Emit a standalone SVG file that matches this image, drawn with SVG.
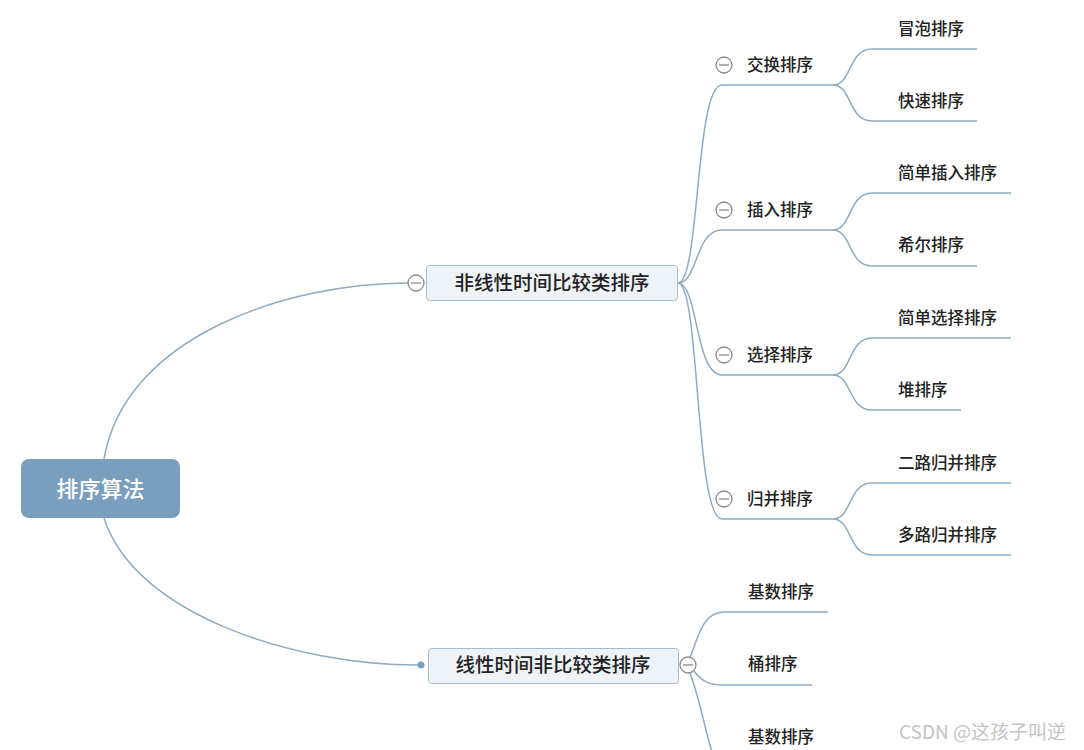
<svg xmlns="http://www.w3.org/2000/svg" width="1084" height="750" viewBox="0 0 1084 750">
<style>
.ln{fill:none;stroke:#8eabc3;stroke-width:1.5}
.t{font-family:"Noto Sans CJK SC","Noto Sans",sans-serif;fill:#222;font-weight:500}
.l2{font-size:16.5px}
.l1{font-size:19.5px}
.col{fill:#fff;stroke:#8a8a8a;stroke-width:1.3}
.wm{font-family:"Noto Sans CJK SC","Liberation Sans",sans-serif;font-size:19px;fill:#c4c4c4}
</style>
<rect width="1084" height="750" fill="#fff"/>
<g id="connectors">
<path class="ln" d="M104,459 C125,335 290,283 408,283"/>
<path class="ln" d="M104,518 C135,615 295,665 418,665"/>
<path class="ln" d="M678,283 C700,283 695,85 722,85 L833,85"/>
<path class="ln" d="M678,283 C698,283 695,230 722,230 L833,230"/>
<path class="ln" d="M678,283 C698,283 695,375 722,375 L833,375"/>
<path class="ln" d="M678,283 C700,283 695,519 722,519 L833,519"/>
<path class="ln" d="M833,85 C852,85 848,49 872,49 L977,49"/>
<path class="ln" d="M833,85 C852,85 848,121 872,121 L977,121"/>
<path class="ln" d="M833,230 C852,230 848,193 872,193 L1011,193"/>
<path class="ln" d="M833,230 C852,230 848,266 872,266 L977,266"/>
<path class="ln" d="M833,375 C852,375 848,338 872,338 L1011,338"/>
<path class="ln" d="M833,375 C852,375 848,410 872,410 L961,410"/>
<path class="ln" d="M833,519 C852,519 848,483 872,483 L1011,483"/>
<path class="ln" d="M833,519 C852,519 848,555 872,555 L1011,555"/>
<path class="ln" d="M690,658 C700,630 705,612 724,612 L828,612"/>
<path class="ln" d="M694,671 C702,682 710,685 724,685 L812,685"/>
<path class="ln" d="M690,673 C700,700 705,730 712,752"/>
</g>
<g id="root">
<rect x="21" y="459" width="159" height="59" rx="8" fill="#7a9fbe"/>
<text class="t" x="100.5" y="497" font-size="22" style="fill:#fff" text-anchor="middle">排序算法</text>
</g>
<g id="n1">
<rect x="426.5" y="265.5" width="251" height="35" rx="3" fill="#eef3f8" stroke="#a3bccf"/>
<text class="t l1" x="552" y="290" text-anchor="middle">非线性时间比较类排序</text>
<circle class="col" cx="416" cy="283" r="8"/>
<line x1="411" y1="283" x2="421" y2="283" stroke="#8a8a8a" stroke-width="1.3"/>
</g>
<g id="n2">
<rect x="428.5" y="648.5" width="250" height="35" rx="3" fill="#eef3f8" stroke="#a3bccf"/>
<text class="t l1" x="553" y="672" text-anchor="middle">线性时间非比较类排序</text>
<circle cx="421" cy="665" r="3.5" fill="#7a9fbe"/>
<circle class="col" cx="688" cy="665" r="8"/>
<line x1="683" y1="665" x2="693" y2="665" stroke="#8a8a8a" stroke-width="1.3"/>
</g>
<g id="jiaohuan">
<circle class="col" cx="724" cy="65" r="8"/>
<line x1="719" y1="65" x2="729" y2="65" stroke="#8a8a8a" stroke-width="1.3"/>
<text class="t l2" x="747" y="71">交换排序</text>
</g>
<g id="charu">
<circle class="col" cx="724" cy="210" r="8"/>
<line x1="719" y1="210" x2="729" y2="210" stroke="#8a8a8a" stroke-width="1.3"/>
<text class="t l2" x="747" y="216">插入排序</text>
</g>
<g id="xuanze">
<circle class="col" cx="724" cy="355" r="8"/>
<line x1="719" y1="355" x2="729" y2="355" stroke="#8a8a8a" stroke-width="1.3"/>
<text class="t l2" x="747" y="361">选择排序</text>
</g>
<g id="guibing">
<circle class="col" cx="724" cy="499" r="8"/>
<line x1="719" y1="499" x2="729" y2="499" stroke="#8a8a8a" stroke-width="1.3"/>
<text class="t l2" x="747" y="505">归并排序</text>
</g>
<g id="maopao"><text class="t l2" x="898" y="35">冒泡排序</text></g>
<g id="kuaisu"><text class="t l2" x="898" y="107">快速排序</text></g>
<g id="jiandancharu"><text class="t l2" x="898" y="179">简单插入排序</text></g>
<g id="xier"><text class="t l2" x="898" y="251">希尔排序</text></g>
<g id="jiandanxuanze"><text class="t l2" x="898" y="324">简单选择排序</text></g>
<g id="dui"><text class="t l2" x="898" y="396">堆排序</text></g>
<g id="erlu"><text class="t l2" x="898" y="469">二路归并排序</text></g>
<g id="duolu"><text class="t l2" x="898" y="541">多路归并排序</text></g>
<g id="jishu1"><text class="t l2" x="748" y="598">基数排序</text></g>
<g id="tong"><text class="t l2" x="748" y="670">桶排序</text></g>
<g id="jishu2"><text class="t l2" x="748" y="743">基数排序</text></g>
<text class="wm" x="899" y="739">CSDN @这孩子叫逆</text>
</svg>
